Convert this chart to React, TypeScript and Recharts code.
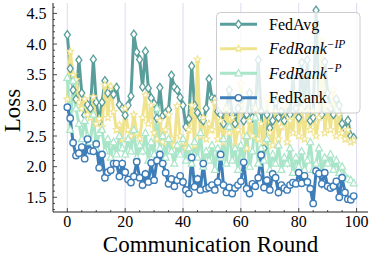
import { Line, LineChart, ReferenceLine, XAxis, YAxis } from "recharts";

// Communication rounds 0..99
const rounds = Array.from({ length: 100 }, (_, i) => i);

const fedAvg = [
  4.15, 3.6, 3.25, 3.1, 3.74, 3.2, 2.84, 3.01, 2.95, 3.75,
  3.05, 2.73, 3.05, 3.4, 3.2, 3.28, 3.18, 3.29, 3.01, 2.95,
  2.84, 3.0, 3.15, 4.16, 3.87, 3.75, 3.3, 3.88, 3.28, 3.12,
  3.03, 2.79, 3.29, 2.83, 2.88, 2.93, 3.49, 3.3, 3.25, 3.13,
  3.0, 2.65, 2.78, 3.64, 3.0, 2.88, 2.8, 2.75, 2.95, 3.43,
  3.12, 3.1, 2.9, 2.85, 2.7, 2.95, 3.25, 2.85, 2.7, 2.95,
  3.1, 2.75, 2.85, 3.2, 2.8, 2.95, 3.74, 2.9, 2.3, 2.85,
  2.63, 2.75, 3.05, 2.8, 2.9, 2.75, 3.0, 2.85, 3.45, 2.95,
  2.8, 3.7, 3.0, 3.74, 2.75, 2.8, 4.55, 3.1, 2.85, 3.71,
  3.2, 2.95, 2.85, 3.1, 3.0, 2.7, 2.62, 2.75, 2.5, 2.47,
];

const fedRankNoIP = [
  3.1, 3.88, 3.5, 3.42, 3.05, 2.95, 3.1, 2.85, 2.8, 3.14,
  2.7, 2.78, 2.65, 3.33, 2.8, 3.31, 2.9, 2.6, 2.68, 2.45,
  2.95, 2.6, 2.5, 2.85, 2.55, 2.46, 2.8, 3.17, 2.7, 3.0,
  2.55, 2.45, 2.75, 2.4, 2.6, 2.84, 2.45, 2.35, 2.99, 2.5,
  2.4, 2.3, 2.6, 3.0, 2.35, 3.75, 2.5, 2.8, 2.45, 2.7,
  2.6, 3.05, 2.45, 2.75, 2.4, 2.95, 2.55, 2.8, 2.35, 2.6,
  3.35, 2.5, 2.3, 2.75, 2.5, 2.95, 2.45, 2.7, 2.4, 3.1,
  2.55, 2.35, 2.9, 2.45, 2.65, 3.0, 2.4, 2.75, 2.55, 3.2,
  2.5, 2.95, 2.45, 3.05, 2.6, 2.9, 2.5, 2.8, 4.05, 2.55,
  3.0, 2.6, 3.25, 2.5, 2.85, 2.55, 2.45, 2.6, 2.4, 2.43,
];

const fedRankNoP = [
  3.45, 2.6, 3.4, 2.95, 2.7, 2.45, 2.75, 2.5, 2.4, 2.85,
  2.3, 2.55, 2.6, 2.25, 2.45, 2.15, 2.4, 2.2, 2.5, 2.3,
  2.2, 2.45, 2.25, 2.6, 2.15, 2.35, 2.25, 2.55, 2.1, 2.4,
  2.2, 2.95, 2.3, 2.5, 2.15, 2.45, 2.25, 2.05, 2.35, 2.2,
  2.45, 2.1, 2.3, 2.05, 2.4, 2.15, 2.55, 2.0, 2.25, 2.1,
  2.35, 1.95, 2.3, 2.15, 2.45, 2.05, 2.65, 2.1, 2.3, 1.95,
  2.35, 2.1, 2.5, 2.0, 2.25, 2.8, 2.05, 2.3, 2.1, 2.45,
  1.95, 2.2, 2.05, 2.35, 1.95, 2.15, 2.05, 2.3, 1.9, 2.15,
  2.0, 2.25, 1.95, 2.1, 2.4, 1.95, 2.05, 2.3, 1.9, 2.15,
  2.05, 2.2, 1.95, 2.1, 1.9, 2.0, 1.85, 1.8, 1.78, 1.73,
];

const fedRank = [
  2.97, 2.79, 2.39, 2.18, 2.22, 2.32, 2.13, 2.45, 2.26, 2.25,
  2.37, 1.98, 2.2, 1.82, 1.91, 1.94, 2.05, 2.05, 1.84, 2.05,
  1.91, 1.79, 1.74, 1.84, 2.08, 1.82, 1.7, 1.88, 1.75, 2.06,
  1.78, 2.1, 2.2, 2.05, 1.9, 1.72, 1.8, 1.68, 1.78, 1.85,
  1.75, 1.62, 1.56, 2.15, 1.67, 1.8, 1.62, 2.05, 1.64, 1.66,
  1.7, 1.62, 1.75, 2.2, 1.7, 1.58, 1.66, 1.56, 1.65, 1.7,
  1.76, 2.07, 1.64, 1.56, 1.72, 1.68, 1.82, 2.19, 1.66, 1.78,
  1.62, 1.88, 1.82, 1.58, 1.7, 1.65, 1.62, 1.7, 1.74, 1.72,
  1.9, 1.73, 1.85, 1.75, 1.64, 1.4, 1.93, 1.89, 1.72, 1.9,
  1.68, 1.65, 1.68, 1.76, 1.5, 1.82, 1.58, 1.47, 1.46, 1.52,
];

const xMajorTicks = [0, 20, 40, 60, 80, 100];
const xMinorStep = 5;
const yMajorTicks = [1.5, 2.0, 2.5, 3.0, 3.5, 4.0, 4.5];
const yMinorStep = 0.1;

const xDomain = [-4.95, 103.95];
const yDomain = [1.26, 4.67];

const xTicks = Array.from({ length: 21 }, (_, i) => i * xMinorStep);
const yTicks = Array.from({ length: 34 }, (_, i) => Math.round((1.3 + i * yMinorStep) * 10) / 10);

const rows = rounds.map((r, i) => ({
  round: r,
  fedAvg: fedAvg[i],
  fedRankNoIP: fedRankNoIP[i],
  fedRankNoP: fedRankNoP[i],
  fedRank: fedRank[i],
}));

const COLORS = {
  fedAvg: "#5a9e9b",
  fedRankNoIP: "#f0e38e",
  fedRankNoP: "#a9e5c8",
  fedRank: "#3d7db8",
};

const FONT = "'Liberation Serif', 'DejaVu Serif', serif";

const isMajorY = (v: number) => yMajorTicks.some((m) => Math.abs(m - v) < 1e-6);

function BottomTick({ x, y, payload }: any) {
  const major = xMajorTicks.includes(payload.value);
  return (
    <g>
      <line x1={x} x2={x} y1={y} y2={y - (major ? 4 : 2)} stroke="#222" strokeWidth={0.8} />
      {major && (
        <text x={x} y={y + 14.7} textAnchor="middle" fontSize={16} fontFamily={FONT} fill="#000">
          {payload.value}
        </text>
      )}
    </g>
  );
}

function TopTick({ x, y, payload }: any) {
  const major = xMajorTicks.includes(payload.value);
  return <line x1={x} x2={x} y1={y} y2={y + (major ? 4 : 2)} stroke="#222" strokeWidth={0.8} />;
}

function LeftTick({ x, y, payload }: any) {
  const major = isMajorY(payload.value);
  return (
    <g>
      <line x1={x} x2={x + (major ? 4 : 2)} y1={y} y2={y} stroke="#222" strokeWidth={0.8} />
      {major && (
        <text x={x - 6.5} y={y + 5.5} textAnchor="end" fontSize={16} fontFamily={FONT} fill="#000">
          {payload.value.toFixed(1)}
        </text>
      )}
    </g>
  );
}

function RightTick({ x, y, payload }: any) {
  const major = isMajorY(payload.value);
  return <line x1={x} x2={x - (major ? 4 : 2)} y1={y} y2={y} stroke="#222" strokeWidth={0.8} />;
}

function XLabel({ viewBox }: any) {
  return (
    <text x={viewBox.x + viewBox.width / 2} y={viewBox.y + 39.7} textAnchor="middle" fontSize={23} fontFamily={FONT} fill="#000">
      Communication Round
    </text>
  );
}

function YLabel({ viewBox }: any) {
  const cy = viewBox.y + viewBox.height / 2 + 3;
  return (
    <text x={20} y={cy} transform={`rotate(-90 20 ${cy})`} textAnchor="middle" fontSize={23} fontFamily={FONT} fill="#000">
      Loss
    </text>
  );
}

function starPath(cx: number, cy: number, R: number) {
  const r = R * 0.45;
  let d = "";
  for (let k = 0; k < 10; k++) {
    const rad = k % 2 === 0 ? R : r;
    const a = -Math.PI / 2 + (k * Math.PI) / 5;
    d += `${k === 0 ? "M" : "L"}${cx + rad * Math.cos(a)},${cy + rad * Math.sin(a)}`;
  }
  return d + "Z";
}

function Marker({ kind, cx, cy, color }: { kind: string; cx: number; cy: number; color: string }) {
  if (kind === "diamond") {
    return <path d={`M${cx},${cy - 4.2}L${cx + 3},${cy}L${cx},${cy + 4.2}L${cx - 3},${cy}Z`} fill="#fff" stroke={color} strokeWidth={1.3} />;
  }
  if (kind === "star") {
    return <path d={starPath(cx, cy, 3.6)} fill="#fff" stroke={color} strokeWidth={1.1} />;
  }
  if (kind === "triangle") {
    return <path d={`M${cx},${cy - 3.8}L${cx + 3.5},${cy + 2.6}L${cx - 3.5},${cy + 2.6}Z`} fill="#fff" stroke={color} strokeWidth={1.2} />;
  }
  return <circle cx={cx} cy={cy} r={3.2} fill="#fff" stroke={color} strokeWidth={1.4} />;
}

const makeDot = (kind: string, color: string) => (p: any) => (
  <Marker key={`${kind}-${p.index}`} kind={kind} cx={p.cx} cy={p.cy} color={color} />
);

const series = [
  { key: "fedAvg", kind: "diamond", label: "FedAvg" },
  { key: "fedRankNoIP", kind: "star", label: "FedRank", sup: "\u2212IP" },
  { key: "fedRankNoP", kind: "triangle", label: "FedRank", sup: "\u2212P" },
  { key: "fedRank", kind: "circle", label: "FedRank" },
] as const;

function LegendBox() {
  return (
    <svg width={373} height={260} style={{ position: "absolute", left: 0, top: 0, pointerEvents: "none" }}>
      <rect x={216.5} y={12.5} width={143.5} height={100.5} rx={4} fill="rgba(255,255,255,0.8)" stroke="#cccccc" strokeWidth={1} />
      {series.map((s, i) => {
        const cy = 24.3 + i * 24.5;
        const color = (COLORS as any)[s.key];
        const italic = "sup" in s;
        return (
          <g key={s.key}>
            <line x1={220} x2={257} y1={cy} y2={cy} stroke={color} strokeWidth={3} />
            <Marker kind={s.kind} cx={238.5} cy={cy} color={color} />
            <text x={269} y={cy + 5.2} fontSize={16} fontFamily={FONT} fill="#000">
              <tspan fontStyle={italic ? "italic" : "normal"}>{s.label}</tspan>
              {"sup" in s && (
                <tspan fontStyle="italic" fontSize={11.5} dy={-6.5}>
                  {s.sup}
                </tspan>
              )}
            </text>
          </g>
        );
      })}
    </svg>
  );
}

export default function App() {
  return (
    <div style={{ position: "absolute", left: 0, top: 0, width: 373, height: 260, background: "#fff", fontFamily: FONT }}>
      <LineChart width={373} height={260} data={rows} margin={{ top: 3, right: 5, left: 0, bottom: 0 }}>
        <XAxis
          dataKey="round"
          type="number"
          domain={xDomain}
          ticks={xTicks}
          interval={0}
          allowDataOverflow
          height={48}
          tickSize={0}
          tickMargin={0}
          tickLine={false}
          tick={<BottomTick />}
          axisLine={{ stroke: "#222", strokeWidth: 1 }}
          label={<XLabel />}
        />
        <XAxis
          xAxisId="top"
          orientation="top"
          dataKey="round"
          type="number"
          domain={xDomain}
          ticks={xTicks}
          interval={0}
          allowDataOverflow
          height={0}
          tickSize={0}
          tickMargin={0}
          tickLine={false}
          tick={<TopTick />}
          axisLine={{ stroke: "#222", strokeWidth: 1 }}
        />
        <YAxis
          type="number"
          domain={yDomain}
          ticks={yTicks}
          interval={0}
          allowDataOverflow
          width={53}
          tickSize={0}
          tickMargin={0}
          tickLine={false}
          tick={<LeftTick />}
          axisLine={{ stroke: "#222", strokeWidth: 1 }}
          label={<YLabel />}
        />
        <YAxis
          yAxisId="right"
          orientation="right"
          type="number"
          domain={yDomain}
          ticks={yTicks}
          interval={0}
          allowDataOverflow
          width={0}
          tickSize={0}
          tickMargin={0}
          tickLine={false}
          tick={<RightTick />}
          axisLine={{ stroke: "#222", strokeWidth: 1 }}
        />
        {xMajorTicks.map((v) => (
          <ReferenceLine key={v} x={v} stroke="#dcdcf3" strokeWidth={1} />
        ))}
        {series.map((s) => (
          <Line
            key={s.key}
            dataKey={s.key}
            type="linear"
            stroke={(COLORS as any)[s.key]}
            strokeWidth={3}
            dot={makeDot(s.kind, (COLORS as any)[s.key])}
            activeDot={false}
            isAnimationActive={false}
          />
        ))}
      </LineChart>
      <LegendBox />
    </div>
  );
}
